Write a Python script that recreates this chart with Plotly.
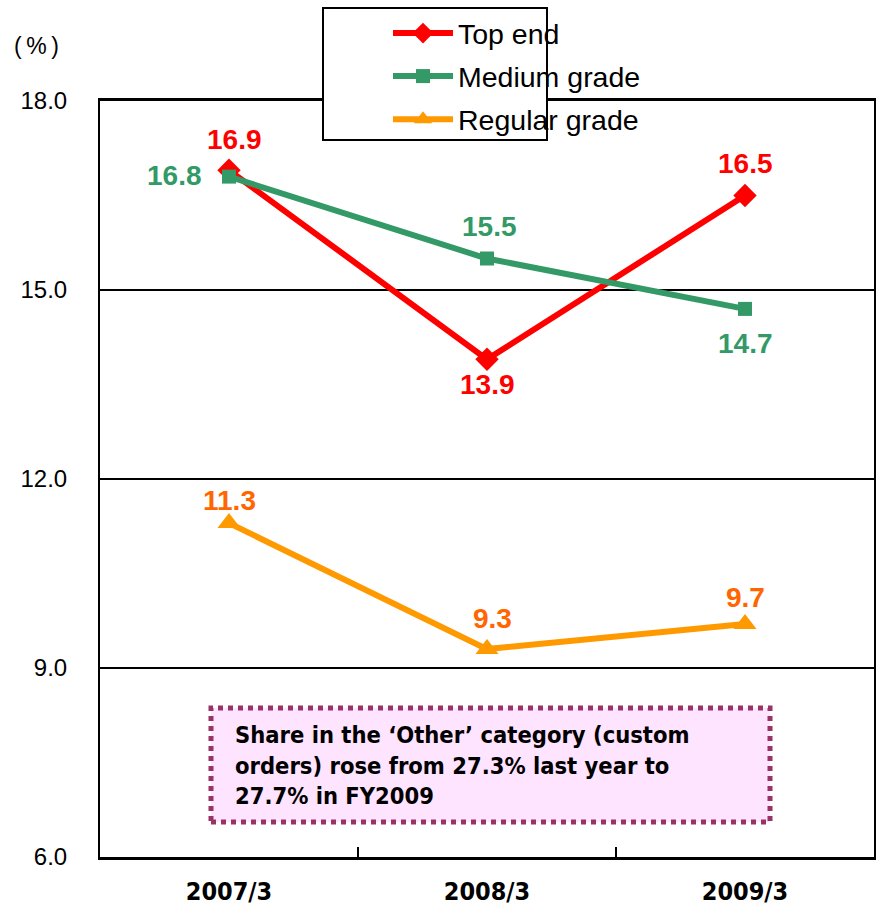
import plotly.graph_objects as go

# Fiscal periods and share (%) by grade
periods = ["2007/3", "2008/3", "2009/3"]
top_end = [16.9, 13.9, 16.5]
medium_grade = [16.8, 15.5, 14.7]
regular_grade = [11.3, 9.3, 9.7]

y_ticks = [6.0, 9.0, 12.0, 15.0, 18.0]

note_text = ("Share in the \u2018Other\u2019 category (custom<br>"
             "orders) rose from 27.3% last year to<br>"
             "27.7% in FY2009")

RED = "#FF0000"
GREEN = "#339966"
ORANGE = "#FF9900"
ORANGE_TEXT = "#FF6600"
NARROW = "DejaVu Sans Condensed"

fig = go.Figure()

series = [
    ("Top end", top_end, RED, "diamond", 18),
    ("Medium grade", medium_grade, GREEN, "square", 14),
    ("Regular grade", regular_grade, ORANGE, "triangle-up", 20),
]
for i, (name, vals, color, sym, msize) in enumerate(series):
    fig.add_trace(go.Scatter(
        x=periods, y=vals, name=name, mode="lines+markers",
        line=dict(color=color, width=6),
        marker=dict(symbol=sym, size=msize, color=color),
        legendgroup=f"g{i}",
    ))

# value labels: (values, colour, pixel offsets per point)
label_specs = [
    (top_end, RED, [(5, 31), (0, -25), (0, 32)]),
    (medium_grade, GREEN, [(-55, 1), (2, 32), (0, -35)]),
    (regular_grade, ORANGE_TEXT, [(0, 23), (5, 31), (0, 26)]),
]
for vals, color, shifts in label_specs:
    for p, v, (dx, dy) in zip(periods, vals, shifts):
        fig.add_annotation(
            x=p, y=v, xref="x", yref="y", text=f"{v:.1f}", showarrow=False,
            xshift=dx, yshift=dy,
            font=dict(family="Liberation Sans", size=28, color=color, weight="bold"),
        )

# legend frame
fig.add_shape(type="rect", xref="paper", yref="paper",
              x0=(323 - 100) / 774, x1=(547 - 100) / 774,
              y0=(857 - 140) / 756, y1=(857 - 8) / 756,
              line=dict(color="black", width=2), fillcolor="white", layer="above")

# note box
fig.add_shape(type="rect", xref="paper", yref="paper",
              x0=(211 - 100) / 774, x1=(770 - 100) / 774,
              y0=(857 - 822) / 756, y1=(857 - 708) / 756,
              line=dict(color="#993366", width=5, dash="dot"),
              fillcolor="#FFE4FF", layer="below")
fig.add_annotation(
    xref="paper", yref="paper", x=(233 - 100) / 774, y=(857 - 765) / 756,
    xanchor="left", yanchor="middle", align="left", showarrow=False,
    text=note_text,
    font=dict(family=NARROW, size=23.5, color="black", weight="bold"),
)

# unit label
fig.add_annotation(
    xref="paper", yref="paper", x=(12 - 100) / 774, y=(857 - 46) / 756,
    xanchor="left", yanchor="middle", showarrow=False, text="(\u2009%\u2009)",
    font=dict(family="Liberation Sans", size=23, color="black"),
)

fig.update_layout(
    width=877, height=909,
    margin=dict(l=100, r=3, t=101, b=52),
    paper_bgcolor="white", plot_bgcolor="white",
    showlegend=True,
    legend=dict(
        x=(388 - 100) / 774, y=(857 - 8) / 756, xanchor="left", yanchor="top",
        bgcolor="rgba(0,0,0,0)", borderwidth=0,
        font=dict(family="Liberation Sans", size=28.5, color="black"),
        traceorder="grouped", tracegroupgap=3, itemwidth=60,
    ),
    xaxis=dict(
        type="category", range=[-0.5, 2.5], tickson="boundaries",
        ticks="inside", ticklen=10, tickwidth=1.5, tickcolor="black",
        showline=True, linecolor="black", linewidth=2.5, mirror=True,
        showgrid=False, zeroline=False, ticklabelstandoff=10, automargin=False,
        tickfont=dict(family=NARROW, size=25, color="black", weight="bold"),
    ),
    yaxis=dict(
        range=[6, 18], tickvals=y_ticks, tickformat=".1f",
        ticks="", showline=True, linecolor="black", linewidth=2, mirror=True,
        showgrid=True, gridcolor="black", gridwidth=1.5, zeroline=False,
        ticklabelstandoff=26, automargin=False,
        tickfont=dict(family="Liberation Sans", size=24, color="black"),
    ),
)

fig.write_html("out.html")
